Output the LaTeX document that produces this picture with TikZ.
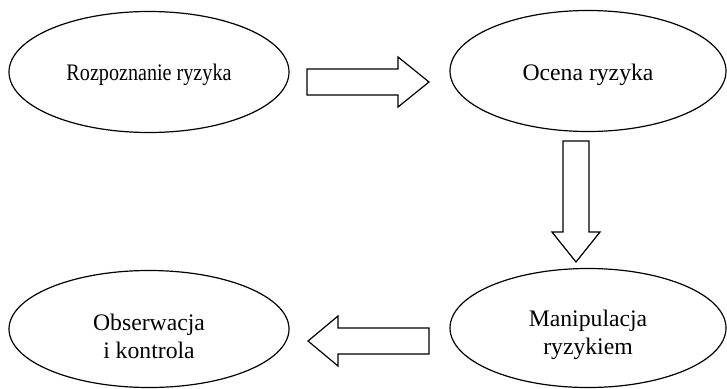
\documentclass[tikz,border=0pt]{standalone}
\usepackage{fontspec}
\setmainfont{Liberation Serif}
\usetikzlibrary{shapes.geometric}
\begin{document}
\begin{tikzpicture}[x=1pt,y=-1pt,
  oval/.style={draw=black, line width=1.2pt, ellipse, inner sep=0pt,
    minimum width=280pt, minimum height=121pt},
  lbl/.style={inner sep=0pt, align=center, font=\fontsize{23.7}{28}\selectfont},
  blockarrow/.style={draw=black, line width=1.2pt, fill=white, line join=miter}]
\useasboundingbox (0,0) rectangle (727,388);
\node[oval] (rozp) at (149,72) {};
\node[oval, minimum width=276pt] (ocena) at (588,71) {};
\node[oval, minimum width=276pt, minimum height=119pt] (manip) at (588,328) {};
\node[oval, minimum height=117pt] (obs) at (149,329) {};
\node[lbl] (trozp) at ([yshift=-3pt]rozp.center) {\scalebox{0.85}[1]{Rozpoznanie ryzyka}};
\node[lbl] (tocena) at ([yshift=-4pt]ocena.center) {Ocena ryzyka};
\node[lbl] (tmanip) at ([yshift=-7pt]manip.center) {Manipulacja\\ryzykiem};
\node[lbl] (tobs) at ([yshift=-7pt]obs.center) {Obserwacja\\i kontrola};
% right arrow
\draw[blockarrow] (307,69) -- (398,69) -- (398,57) -- (429,82) -- (398,107) -- (398,95) -- (307,95) -- cycle;
% down arrow
\draw[blockarrow] (563,141) -- (589,141) -- (589,232) -- (600,232) -- (576,262) -- (552,232) -- (563,232) -- cycle;
% left arrow
\draw[blockarrow] (429,328) -- (338,328) -- (338,316) -- (308,341) -- (338,366) -- (338,354) -- (429,354) -- cycle;
\end{tikzpicture}
\end{document}
